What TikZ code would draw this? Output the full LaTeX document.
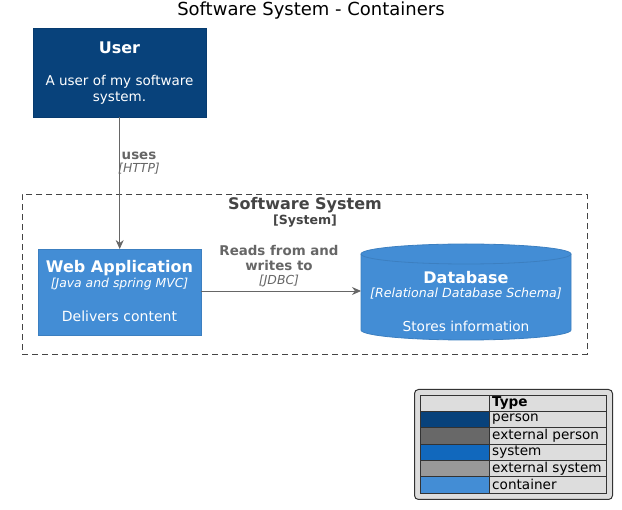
\documentclass[tikz,border=0pt]{standalone}
\usepackage{fontspec}
\setmainfont{DejaVu Sans}
\usetikzlibrary{arrows.meta}
\definecolor{personc}{HTML}{08427B}
\definecolor{personb}{HTML}{073B6F}
\definecolor{extpersonc}{HTML}{686868}
\definecolor{systemc}{HTML}{1168BD}
\definecolor{extsystemc}{HTML}{999999}
\definecolor{contc}{HTML}{438DD5}
\definecolor{contb}{HTML}{3C7FC0}
\definecolor{relc}{HTML}{666666}
\definecolor{bndc}{HTML}{444444}
\definecolor{legbg}{HTML}{DDDDDD}
\begin{document}
\begin{tikzpicture}[x=1pt,y=-1pt,
  txt/.style={inner sep=0pt, anchor=center},
  reltxt/.style={txt, text=relc},
  rel/.style={draw=relc, line width=0.8pt, -{Stealth[length=9pt,width=8pt,inset=3pt]}},
  cell/.style={draw=black!80, line width=0.6pt}]
\useasboundingbox (0,0) rectangle (622,510);
% title
\node[txt, font=\fontsize{18}{20}\selectfont] (title) at (311,11) {Software System - Containers};
% user
\node[draw=personb, fill=personc, minimum width=173pt, minimum height=89pt, inner sep=0pt, anchor=north west] (user) at (33,28) {};
\node[txt, text=white, font=\bfseries\fontsize{16}{18}\selectfont] (usern) at (119.5,48) {User};
\node[txt, text=white, font=\fontsize{13.5}{16}\selectfont, align=center] (userd) at (119.5,90) {A user of my software\\[-0.5pt]system.};
% boundary
\node[draw=bndc, dashed, dash pattern=on 6pt off 4pt, line width=0.8pt, minimum width=565pt, minimum height=160pt, inner sep=0pt, anchor=north west] (bnd) at (22,194) {};
\node[txt, text=bndc, font=\bfseries\fontsize{16}{18}\selectfont] (bndn) at (305,205) {Software System};
\node[txt, text=bndc, font=\bfseries\fontsize{12.6}{14}\selectfont] (bndt) at (305,221) {[System]};
% web app
\node[draw=contb, fill=contc, minimum width=163pt, minimum height=86pt, inner sep=0pt, anchor=north west] (web) at (38,249) {};
\node[txt, text=white, font=\bfseries\fontsize{16}{18}\selectfont] (webn) at (119.5,268) {Web Application};
\node[txt, text=white, font=\itshape\fontsize{12.4}{14}\selectfont] (webt) at (119.5,284) {[Java and spring MVC]};
\node[txt, text=white, font=\fontsize{14}{16}\selectfont] (webd) at (119.5,316) {Delivers content};
% database
\fill[contc] (361,254) -- (361,330) .. controls (361,335.52) and (408.01,340) .. (466,340) .. controls (523.99,340) and (571,335.52) .. (571,330) -- (571,254) -- cycle;
\fill[contc] (466,254) ellipse [x radius=105, y radius=10];
\draw[contb, line width=0.8pt] (361,254) -- (361,330) .. controls (361,335.52) and (408.01,340) .. (466,340) .. controls (523.99,340) and (571,335.52) .. (571,330) -- (571,254);
\draw[contb, line width=0.8pt] (466,254) ellipse [x radius=105, y radius=10];
\node[minimum width=210pt, minimum height=96pt, inner sep=0pt, anchor=north west] (db) at (361,244) {};
\node[txt, text=white, font=\bfseries\fontsize{16}{18}\selectfont] (dbn) at (466,278) {Database};
\node[txt, text=white, font=\itshape\fontsize{12.6}{14}\selectfont] (dbt) at (466,294) {[Relational Database Schema]};
\node[txt, text=white, font=\fontsize{13.7}{16}\selectfont] (dbd) at (466,326) {Stores information};
% relations
\draw[rel] (user.south) -- (web.north);
\node[reltxt, font=\bfseries\fontsize{13.4}{15}\selectfont] (l1a) at (139,156) {uses};
\node[reltxt, font=\itshape\fontsize{12.4}{14}\selectfont] (l1b) at (139,169) {[HTTP]};
\coordinate (dbw) at (361,291);
\draw[rel] (web.east |- dbw) -- (dbw);
\node[reltxt, font=\bfseries\fontsize{13.4}{15}\selectfont] (l2a) at (279,251) {Reads from and};
\node[reltxt, font=\bfseries\fontsize{13.4}{15}\selectfont] (l2b) at (279,266) {writes to};
\node[reltxt, font=\itshape\fontsize{12.4}{14}\selectfont] (l2c) at (279,281) {[JDBC]};
% legend
\node[draw=black!80, fill=legbg, rounded corners=4pt, line width=1pt, minimum width=198pt, minimum height=110pt, inner sep=0pt, anchor=north west] (leg) at (414,389) {};
\foreach \y/\c/\t [count=\i] in {395/legbg/{\textbf{Type}}, 411.33/personc/person, 427.67/extpersonc/external person, 444/systemc/system, 460.33/extsystemc/external system, 476.67/contc/container} {
  \draw[cell, fill=\c] (420,\y) rectangle (489,\y+16.33);
  \draw[cell, fill=legbg] (489,\y) rectangle (606,\y+16.33);
  \node[txt, anchor=west, font=\fontsize{13.6}{15}\selectfont] (lt\i) at (492,\y+8.2) {\t};
}
\end{tikzpicture}
\end{document}
